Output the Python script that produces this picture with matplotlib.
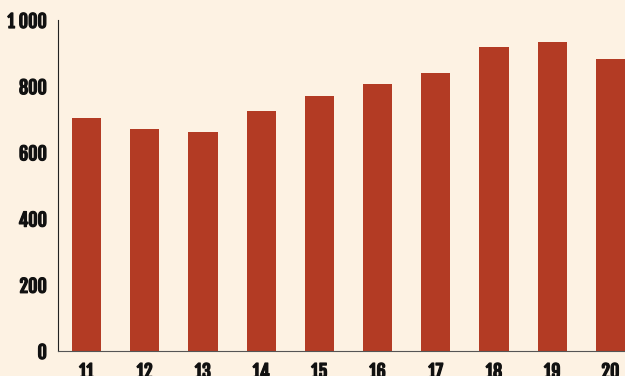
import matplotlib
matplotlib.use('Agg')
import matplotlib.pyplot as plt
import matplotlib.patheffects as pe
from matplotlib.ticker import FuncFormatter

years = ['11', '12', '13', '14', '15', '16', '17', '18', '19', '20']
values = [704, 671, 662, 725, 770, 807, 840, 918, 934, 882]
y_ticks = [0, 200, 400, 600, 800, 1000]

bg = '#fdf2e3'
bar_color = '#b33b24'
ink = '#111111'

plt.rcParams['font.family'] = ['Fjalla One', 'DejaVu Sans']

fig = plt.figure(figsize=(6.25, 3.76), dpi=100, facecolor=bg)
ax = fig.add_axes([58 / 625, 25 / 376, 1 - 58 / 625, 331 / 376])
ax.set_facecolor(bg)

x = range(len(years))
ax.bar(x, values, width=0.5, color=bar_color, zorder=2)

ax.set_xlim(-0.49, len(years) - 0.75)
ax.set_ylim(0, 1000)
ax.set_xticks(list(x))
ax.set_xticklabels(years)
ax.set_yticks(y_ticks)
ax.yaxis.set_major_formatter(FuncFormatter(lambda v, p: f'{int(v):,}'.replace(',', ' ')))

for s in ['top', 'right']:
    ax.spines[s].set_visible(False)
ax.spines['left'].set_color('#222222')
ax.spines['bottom'].set_color('#555555')

ax.tick_params(axis='both', length=0, labelsize=13, colors=ink)
ax.tick_params(axis='x', pad=8)
ax.tick_params(axis='y', pad=8)

# heavier strokes for the tick labels
bold = [pe.withStroke(linewidth=0.9, foreground=ink)]
for lbl in ax.get_xticklabels() + ax.get_yticklabels():
    lbl.set_path_effects(bold)

fig.savefig('out.png', dpi=100, facecolor=bg)
